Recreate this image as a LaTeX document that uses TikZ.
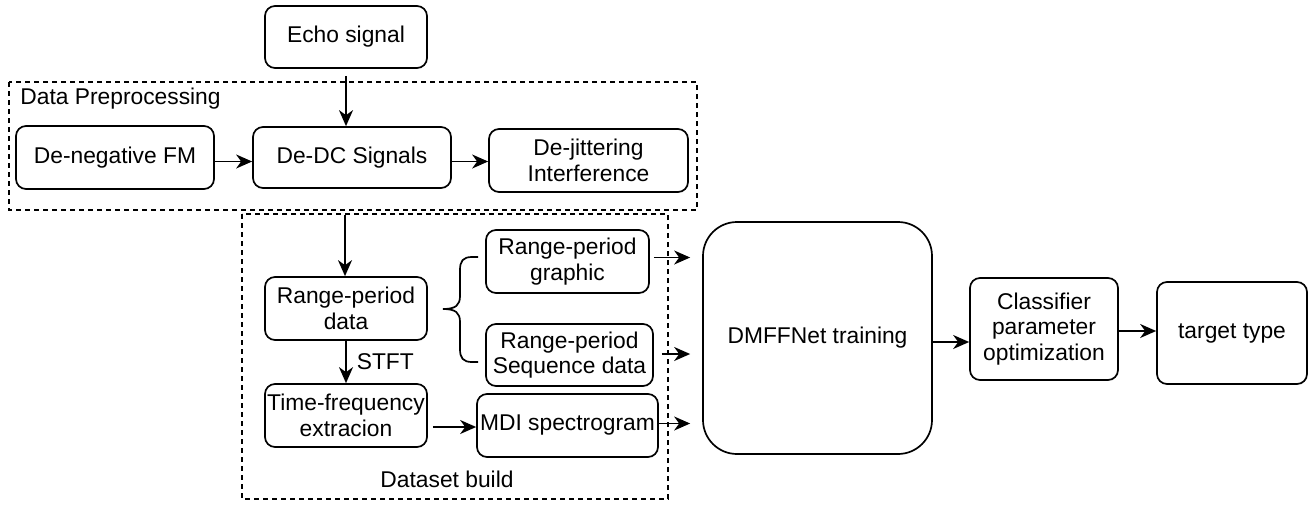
\documentclass[tikz,border=0pt]{standalone}
\usepackage{fontspec}
\setmainfont{Liberation Sans}
\usetikzlibrary{arrows.meta,calc}
\begin{document}
\begin{tikzpicture}[x=0.5pt,y=-0.5pt,
  font=\fontsize{11.4}{12.8}\selectfont,
  box/.style={draw,line width=0.85pt,rounded corners=5pt,align=center,inner sep=0pt},
  dbox/.style={draw,line width=0.8pt,dash pattern=on 2.5pt off 2pt},
  arr/.style={line width=0.85pt,-{Stealth[length=8pt,width=7pt,inset=2.5pt]}},
  lbl/.style={inner sep=0pt}]
\useasboundingbox (0,0) rectangle (1312,504);
% dashed groups
\draw[dbox] (9,82) rectangle (697,210);
\draw[dbox] (242,214) rectangle (668,499);
\node[lbl,anchor=west] (dplabel) at (20,99) {Data Preprocessing};
\node[lbl] (dslabel) at (447,479) {Dataset build};
% nodes
\node[box,minimum width=81pt,minimum height=31pt] (echo) at (346,37) {Echo signal};
\node[box,minimum width=99pt,minimum height=31.5pt] (deneg) at (115,157.5) {De-negative FM};
\node[box,minimum width=99pt,minimum height=30.5pt] (dedc) at (352,157.5) {De-DC Signals};
\node[box,minimum width=99.5pt,minimum height=31.5pt] (dejit) at (588.5,160.5) {De-jittering\\Interference};
\node[box,minimum width=81pt,minimum height=31.5pt] (rpdata) at (346,308.5) {Range-period\\data};
\node[box,minimum width=81.5pt,minimum height=31.5pt] (rpgraph) at (567.5,261.5) {Range-period\\graphic};
\node[box,minimum width=83.5pt,minimum height=31pt] (rpseq) at (569.5,355) {Range-period\\Sequence data};
\node[box,minimum width=81pt,minimum height=31.5pt] (tf) at (346,415.5) {Time-frequency\\extracion};
\node[box,minimum width=90.5pt,minimum height=31.5pt] (mdi) at (567.5,425.5) {MDI spectrogram};
\node[box,rounded corners=17pt,minimum width=114.5pt,minimum height=116pt] (dmff) at (817.5,338) {DMFFNet training};
\node[box,minimum width=74pt,minimum height=51pt] (clf) at (1044,329) {Classifier\\parameter\\optimization};
\node[box,minimum width=75pt,minimum height=51pt] (tgt) at (1232,333) {target type};
% connectors
\draw[arr] ([yshift=-3.5pt]echo.south) -- (echo.south |- dedc.north);
\draw[arr] ([yshift=-2pt]deneg.east) -- ([yshift=-2pt]deneg.east -| dedc.west);
\draw[arr] ([yshift=-2pt]dedc.east) -- ([yshift=-2pt]dedc.east -| dejit.west);
\coordinate (dsin) at (345,215);
\draw[arr] (dsin) -- (dsin |- rpdata.north);
\draw[arr] (rpdata.south) -- (tf.north) node[midway,right=5pt,lbl] (stft) {STFT};
\draw[arr] ([xshift=2.5pt,yshift=-0.75pt]tf.east |- mdi.west) -- ([yshift=-0.75pt]mdi.west);
\draw[arr,shorten >=6pt] ([xshift=2pt,yshift=2pt]rpgraph.east) -- ([yshift=2pt]rpgraph.east -| dmff.west);
\draw[arr,shorten >=6pt] ([xshift=4pt,yshift=0.5pt]rpseq.east) -- ([yshift=0.5pt]rpseq.east -| dmff.west);
\draw[arr,shorten >=6pt] ([yshift=1pt]mdi.east) -- ([yshift=1pt]mdi.east -| dmff.west);
\draw[arr] ([yshift=-2pt]dmff.east) -- ([yshift=-2pt]dmff.east -| clf.west);
\draw[arr] ([yshift=-1pt]clf.east) -- ([yshift=-1pt]clf.east -| tgt.west);
% brace
\draw[line width=0.85pt] (478,257) -- (472,257) .. controls (463,257) and (460,261) .. (460,270)
  -- (460,296) .. controls (460,305) and (456,309) .. (443,309)
  .. controls (456,309) and (460,313) .. (460,322)
  -- (460,349) .. controls (460,358) and (463,362) .. (472,362) -- (478,362);
\end{tikzpicture}
\end{document}
